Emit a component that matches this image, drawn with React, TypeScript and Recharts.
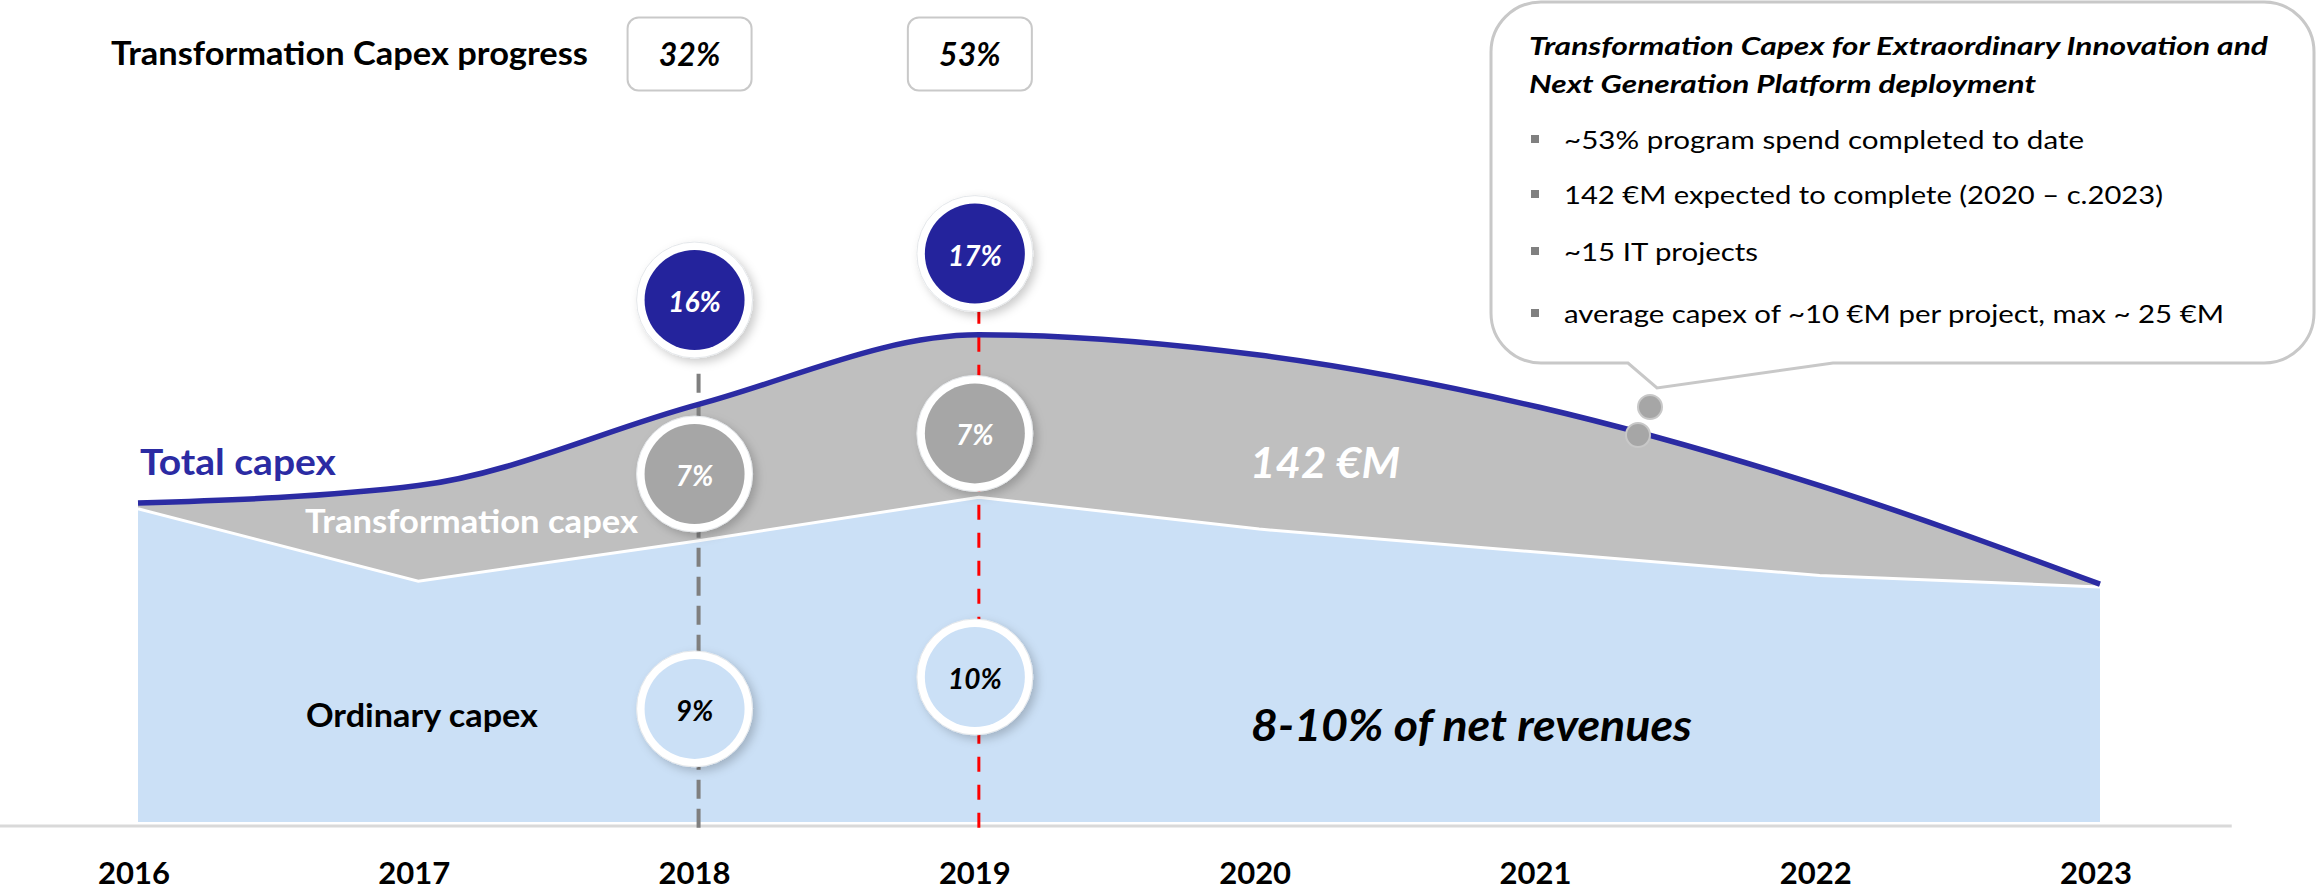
import React from "react";
import { ComposedChart, Area, Line, XAxis, YAxis, ReferenceLine, ReferenceDot } from "recharts";

// capex in €M
const years = [2016, 2017, 2018, 2019, 2020, 2021, 2022, 2023];
const ordinaryCapex = [108, 83, 97, 112, 101, 93, 85, 81];
const transformationCapex = [2, 33, 47, 56, 60, 50, 31, 1];

const milestoneYears = [2018, 2019];
const programProgress = ["32%", "53%"];
const totalShare = ["16%", "17%"];
const transformationShare = ["7%", "7%"];
const ordinaryShare = ["9%", "10%"];

const calloutTitle = [
  "Transformation Capex for Extraordinary Innovation and",
  "Next Generation Platform deployment",
];
const calloutBullets = [
  "~53% program spend completed to date",
  "142 €M expected to complete (2020 – c.2023)",
  "~15 IT projects",
  "average capex of ~10 €M per project, max ~ 25 €M",
];

const data = years.map((year, i) => ({
  year,
  ordinary: ordinaryCapex[i],
  total: ordinaryCapex[i] + transformationCapex[i],
}));

const FONT = 'Lato, "Open Sans", sans-serif';
const NAVY = "#2B2BA3";

// where the annotation bubbles sit, in chart units
const topLevel = [180, 196];
const midLevel = [120, 134];
const lowLevel = [39, 50];
const dashTop = [156, 176];
const dashColor = ["#7F7F7F", "#FF0000"];
const dashPattern = ["19 10", "15 13"];

const Bubble = ({ cx, cy, fill, text, color }: any) => (
  <g transform="translate(-4,0)">
    <circle cx={cx} cy={cy} r={58} fill="#fff" stroke="#E4E7EA" strokeWidth={1} filter="url(#bubbleShadow)" />
    <circle cx={cx} cy={cy} r={50} fill={fill} />
    <text x={cx} y={cy + 1} textAnchor="middle" dominantBaseline="central" fontFamily={FONT}
      fontWeight={700} fontStyle="italic" fontSize={28} fill={color}>{text}</text>
  </g>
);

const ProgressBox = ({ cx, cy, text }: any) => (
  <g>
    <rect x={cx - 71} y={cy - 36} width={124} height={73} rx={11} fill="#fff" stroke="#C9C9C9" strokeWidth={2} />
    <text x={cx - 9} y={cy + 12} textAnchor="middle" fontFamily={FONT} fontWeight={700}
      fontStyle="italic" fontSize={32} fill="#000">{text}</text>
  </g>
);

const YearTick = ({ x, y, payload }: any) => (
  <text x={x - 4} y={y + 62} textAnchor="middle" fontFamily={FONT} fontWeight={700} fontSize={31} fill="#000">
    {payload.value}
  </text>
);

export default function App() {
  const r = 50;
  const L = 1491, R = 2314, T = 2, B = 363;
  const bubblePath = `M ${L + r} ${T} H ${R - r} A ${r} ${r} 0 0 1 ${R} ${T + r} V ${B - r} A ${r} ${r} 0 0 1 ${R - r} ${B}
    H 1833 L 1657 388 L 1628 ${B} H ${L + r} A ${r} ${r} 0 0 1 ${L} ${B - r} V ${T + r} A ${r} ${r} 0 0 1 ${L + r} ${T} Z`;

  return (
    <div style={{ position: "absolute", left: 0, top: 0, width: 2318, height: 894, background: "#fff" }}>
      <svg width={0} height={0} style={{ position: "absolute" }}>
        <defs>
          <filter id="bubbleShadow" x="-40%" y="-40%" width="180%" height="180%">
            <feDropShadow dx="4" dy="4" stdDeviation="5" floodColor="#000" floodOpacity="0.2" />
          </filter>
        </defs>
      </svg>

      <ComposedChart width={2318} height={894} data={data} margin={{ top: 68, right: 218, bottom: 12, left: 138 }}>
        <XAxis dataKey="year" type="number" domain={[2016, 2023]} ticks={years} axisLine={false}
          tickLine={false} tickSize={0} tickMargin={0} height={60} tick={<YearTick />} interval={0} />
        <YAxis hide domain={[0, 260]} />
        <Area dataKey="total" type="monotone" fill="#BFBFBF" fillOpacity={1} stroke="none" isAnimationActive={false} />
        <Area dataKey="ordinary" type="linear" fill="#CBE0F6" fillOpacity={1} stroke="#FFFFFF" strokeWidth={3}
          isAnimationActive={false} />
        <ReferenceLine segment={[{ x: 2015.5, y: -1.4 }, { x: 2023.47, y: -1.4 }]} stroke="#D9D9D9"
          strokeWidth={3} ifOverflow="visible" />
        {milestoneYears.map((yr, i) => (
          <ReferenceLine key={"d" + yr} segment={[{ x: yr, y: -2 }, { x: yr, y: dashTop[i] }]}
            stroke={dashColor[i]} strokeWidth={i === 0 ? 4 : 3} strokeDasharray={dashPattern[i]} ifOverflow="visible" />
        ))}
        <Line dataKey="total" type="monotone" stroke={NAVY} strokeWidth={5.5} dot={false} isAnimationActive={false} />
        {milestoneYears.map((yr, i) => (
          <ReferenceDot key={"t" + yr} x={yr} y={topLevel[i]} r={58} ifOverflow="visible"
            shape={(p: any) => <Bubble cx={p.cx} cy={p.cy} fill="#24239C" color="#fff" text={totalShare[i]} />} />
        ))}
        {milestoneYears.map((yr, i) => (
          <ReferenceDot key={"m" + yr} x={yr} y={midLevel[i]} r={58} ifOverflow="visible"
            shape={(p: any) => <Bubble cx={p.cx} cy={p.cy} fill="#A6A6A6" color="#fff" text={transformationShare[i]} />} />
        ))}
        {milestoneYears.map((yr, i) => (
          <ReferenceDot key={"o" + yr} x={yr} y={lowLevel[i]} r={58} ifOverflow="visible"
            shape={(p: any) => <Bubble cx={p.cx} cy={p.cy} fill="#CBE0F6" color="#000" text={ordinaryShare[i]} />} />
        ))}
        {milestoneYears.map((yr, i) => (
          <ReferenceDot key={"p" + yr} x={yr} y={265} r={40} ifOverflow="visible"
            shape={(p: any) => <ProgressBox cx={p.cx} cy={p.cy} text={programProgress[i]} />} />
        ))}
      </ComposedChart>

      <svg width={2318} height={894} style={{ position: "absolute", left: 0, top: 0, pointerEvents: "none" }}>
        <g fontFamily={FONT}>
          <text x={111} y={65} fontWeight={700} fontSize={32} textLength={477} lengthAdjust="spacingAndGlyphs">
            Transformation Capex progress
          </text>
          <text x={140} y={475} fontWeight={700} fontSize={36} fill={NAVY} textLength={196} lengthAdjust="spacingAndGlyphs">
            Total capex
          </text>
          <text x={305} y={533} fontWeight={700} fontSize={32} fill="#fff" textLength={333} lengthAdjust="spacingAndGlyphs">
            Transformation capex
          </text>
          <text x={306} y={727} fontWeight={700} fontSize={32} fill="#000" textLength={232} lengthAdjust="spacingAndGlyphs">
            Ordinary capex
          </text>
          <text x={1250} y={478} fontWeight={700} fontStyle="italic" fontSize={42} fill="#fff" textLength={150}
            lengthAdjust="spacingAndGlyphs">142 €M</text>
          <text x={1251} y={741} fontWeight={700} fontStyle="italic" fontSize={44} fill="#000" textLength={441}
            lengthAdjust="spacingAndGlyphs">8-10% of net revenues</text>

          <path d={bubblePath} fill="#fff" stroke="#C8C8C8" strokeWidth={3} />
          <circle cx={1650} cy={407} r={12} fill="#A6A6A6" stroke="#C8C8C8" strokeWidth={2} />
          <circle cx={1638} cy={435} r={12} fill="#A6A6A6" stroke="#C8C8C8" strokeWidth={2} />
          {calloutTitle.map((t, i) => (
            <text key={t} x={1529} y={55 + i * 38} fontWeight={700} fontStyle="italic" fontSize={24} fill="#000"
              textLength={i === 0 ? 739 : 507} lengthAdjust="spacingAndGlyphs">{t}</text>
          ))}
          {calloutBullets.map((t, i) => {
            const by = [149, 204, 261, 323][i];
            const w = [520, 599, 194, 660][i];
            return (
              <g key={t}>
                <rect x={1531} y={by - 14} width={8} height={8} fill="#808080" />
                <text x={1564} y={by} fontSize={25} fill="#000" textLength={w} lengthAdjust="spacingAndGlyphs">{t}</text>
              </g>
            );
          })}
        </g>
      </svg>
    </div>
  );
}
